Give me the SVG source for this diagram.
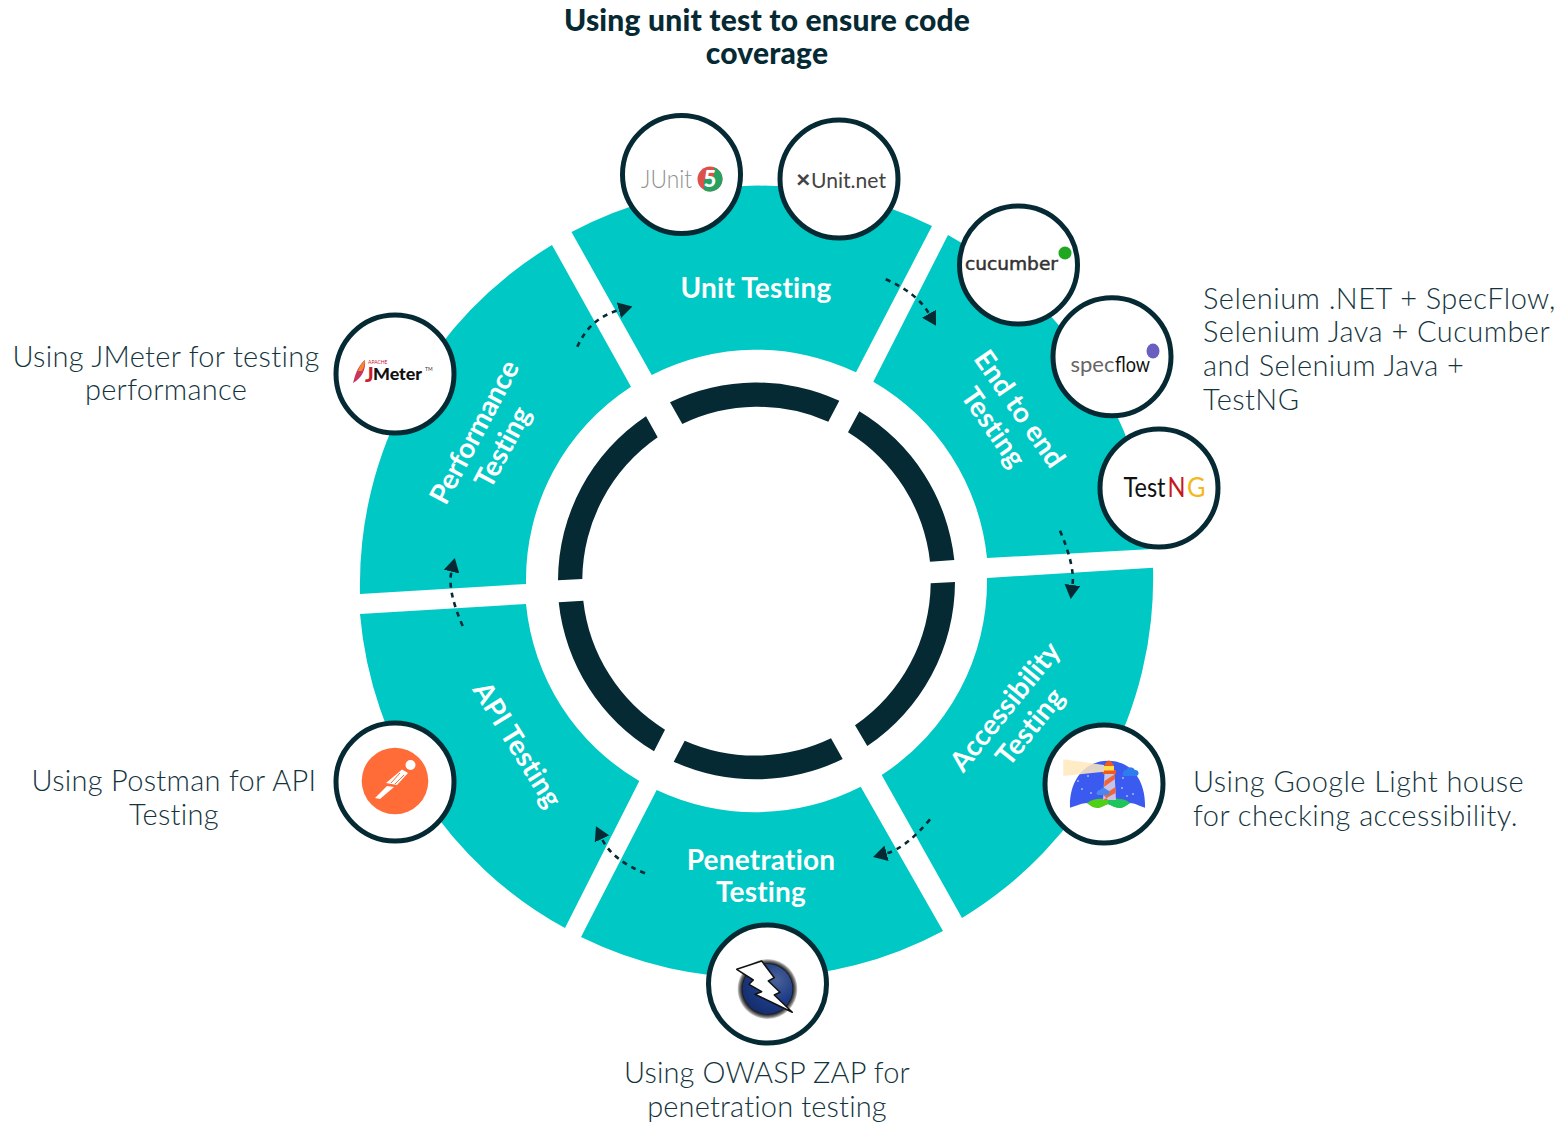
<svg xmlns="http://www.w3.org/2000/svg" width="1562" height="1122" viewBox="0 0 1562 1122">
<style>
.seg{fill:#00c8c4}
.ring{fill:#062a33}
.lab{font:700 28px Lato,"Open Sans",sans-serif;letter-spacing:.2px;fill:#fff;text-anchor:middle}
.tight{letter-spacing:-.2px}
.title{font:900 30px Lato,"Open Sans",sans-serif;letter-spacing:.2px;fill:#062a33;text-anchor:middle}
.note{font:300 29px Lato,"Open Sans",sans-serif;letter-spacing:.3px;fill:#14343d}
.wide{letter-spacing:.45px}
.snug{letter-spacing:.15px}
.mid{text-anchor:middle}
.disc{fill:#fff;stroke:#062a33;stroke-width:5}
.conn{fill:none;stroke:#062a33;stroke-width:2.6;stroke-dasharray:5 5;marker-end:url(#head)}
.logo{font-family:Lato,"Open Sans",sans-serif}
</style>
<defs>
<marker id="head" viewBox="0 0 14 16" refX="0" refY="8" markerWidth="14" markerHeight="16" markerUnits="userSpaceOnUse" orient="auto"><path d="M0,0L14,8L0,16Z" fill="#062a33"/></marker>
<radialGradient id="zapball" cx="0.68" cy="0.32" r="0.8"><stop offset="0" stop-color="#4a6298"/><stop offset="0.55" stop-color="#1c3a86"/><stop offset="1" stop-color="#142c66"/></radialGradient>
<radialGradient id="zaprim"><stop offset="0.84" stop-color="#1a1a1a"/><stop offset="0.93" stop-color="#777"/><stop offset="1" stop-color="#ddd"/></radialGradient>
</defs>
<text class="title" x="767" y="31">Using unit test to ensure code</text>
<text class="title" x="767" y="64">coverage</text>

<g id="ring">
<path class="ring" d="M670,402.3A198 198 0 0 1 839.3,400.7L828.3,421.7A174.5 174.5 0 0 0 682.3,424Z"/>
<path class="ring" d="M859.3,411.3A198 198 0 0 1 954.3,560L930,561.7A174.5 174.5 0 0 0 848,432.3Z"/>
<path class="ring" d="M955,582A198 198 0 0 1 867.3,746L855,725.3A174.5 174.5 0 0 0 930.7,583.3Z"/>
<path class="ring" d="M842.7,759A198 198 0 0 1 673.7,761.7L684.7,740.7A174.5 174.5 0 0 0 831,738.3Z"/>
<path class="ring" d="M654,751.3A198 198 0 0 1 558.7,602.3L583.3,600.7A174.5 174.5 0 0 0 665,729.7Z"/>
<path class="ring" d="M558,580.3A198 198 0 0 1 646,416.3L657.7,437.3A174.5 174.5 0 0 0 582.3,579Z"/>
</g>

<g id="unit-testing">
<path class="seg" d="M571.5,232A396.5 396.5 0 0 1 932,226L856,372.3A230.5 230.5 0 0 0 651.7,375Z"/>
<text class="lab" x="756" y="298">Unit Testing</text>
</g>
<g id="end-to-end-testing">
<path class="seg" d="M948,235A396.5 396.5 0 0 1 1152.5,549L987,558A230.5 230.5 0 0 0 873.3,381.7Z"/>
<g transform="translate(1006,418.5) rotate(55)"><text class="lab" x="0" y="-7">End to end</text><text class="lab" x="0" y="25">Testing</text></g>
</g>
<g id="accessibility-testing">
<path class="seg" d="M1153,567.7A396.5 396.5 0 0 1 962,918L881.7,775A230.5 230.5 0 0 0 987,578Z"/>
<g transform="translate(1018,717) rotate(-51)"><text class="lab" x="0" y="-7">Accessibility</text><text class="lab" x="0" y="25">Testing</text></g>
</g>
<g id="penetration-testing">
<path class="seg" d="M943,931A396.5 396.5 0 0 1 581,937L656.7,790A230.5 230.5 0 0 0 860.7,786.7Z"/>
<text class="lab" x="761" y="870">Penetration</text>
<text class="lab" x="761" y="902">Testing</text>
</g>
<g id="api-testing">
<path class="seg" d="M565,928A396.5 396.5 0 0 1 360,614L526,604A230.5 230.5 0 0 0 639.3,781Z"/>
<g transform="translate(517,745) rotate(58)"><text class="lab" x="0" y="9">API Testing</text></g>
</g>
<g id="performance-testing">
<path class="seg" d="M360,594A396.5 396.5 0 0 1 552,245L631,386.7A230.5 230.5 0 0 0 526,584Z"/>
<g transform="translate(489,440) rotate(-62)"><text class="lab tight" x="0" y="-7">Performance</text><text class="lab tight" x="0" y="25">Testing</text></g>
</g>

<g id="connectors">
<path class="conn" d="M577.3,346.7Q590,318 618.9,310.2"/>
<path class="conn" d="M885.7,279.3Q917,293 929,313.7"/>
<path class="conn" d="M1060,530.7Q1075,566 1072.5,585"/>
<path class="conn" d="M930,819.3Q906,848 886.6,853.3"/>
<path class="conn" d="M645,873.3Q612,860 602,838.9"/>
<path class="conn" d="M462.7,626Q447,590 451.5,571.6"/>
</g>

<g id="junit">
<circle class="disc" cx="681.5" cy="174.5" r="59"/>
<text class="logo" x="641" y="188" font-size="26" font-weight="300" fill="#8f8f8f" textLength="51" lengthAdjust="spacingAndGlyphs">JUnit</text>
<circle cx="710" cy="179" r="12.5" fill="#dc524a"/>
<path d="M722.5,179A12.5 12.5 0 0 1 704,190L704,180L714,176L714,167.5A12.5 12.5 0 0 1 722.5,179Z" fill="#25a162"/>
<text class="logo" x="710" y="187" font-size="22" font-weight="900" fill="#fff" text-anchor="middle">5</text>
</g>
<g id="xunit">
<circle class="disc" cx="839" cy="179" r="59"/>
<text class="logo" x="796" y="188" font-size="25" font-weight="900" fill="#444">×</text>
<text class="logo" x="811" y="188" font-size="22" font-weight="400" fill="#444" textLength="75" lengthAdjust="spacingAndGlyphs">Unit.net</text>
</g>
<g id="cucumber">
<circle class="disc" cx="1018.5" cy="265" r="59"/>
<text x="965" y="270" font-family="'DejaVu Sans',sans-serif" font-size="18" fill="#333" stroke="#333" stroke-width=".5" textLength="93" lengthAdjust="spacingAndGlyphs">cucumber</text>
<circle cx="1065" cy="253" r="6.5" fill="#1fa81f"/>
</g>
<g id="specflow">
<circle class="disc" cx="1112" cy="356.7" r="59"/>
<text class="logo" x="1070.5" y="372" font-size="22" fill="#666" textLength="44" lengthAdjust="spacingAndGlyphs">spec</text>
<text class="logo" x="1115" y="372" font-size="22" fill="#111" textLength="35" lengthAdjust="spacingAndGlyphs">flow</text>
<ellipse cx="1153" cy="351" rx="6.5" ry="7.5" fill="#6a5fc0"/>
</g>
<g id="testng">
<circle class="disc" cx="1159" cy="488" r="59"/>
<text class="logo" x="1123.5" y="497" font-size="27" fill="#111" textLength="42" lengthAdjust="spacingAndGlyphs">Test</text>
<text class="logo" x="1167.5" y="497" font-size="27" fill="#c8181e" textLength="18" lengthAdjust="spacingAndGlyphs">N</text>
<text class="logo" x="1187" y="497" font-size="27" fill="#f5b81a" textLength="18.5" lengthAdjust="spacingAndGlyphs">G</text>
</g>
<g id="jmeter">
<circle class="disc" cx="395" cy="374" r="59"/>
<path d="M353,383C356,370 361,363 365,360C366,369 362,378 353,383Z" fill="#c8365f"/>
<path d="M358,371C360,365 363,362 365,360C365,364 364,367 362,371Z" fill="#f08a2c"/>
<text class="logo" x="368" y="364" font-size="5" fill="#c8202c">APACHE</text>
<text class="logo" x="365" y="382" font-size="20" font-weight="900" fill="#c8202c">J</text>
<text class="logo" x="373" y="380" font-size="17" font-weight="900" fill="#111" textLength="49" lengthAdjust="spacingAndGlyphs">Meter</text>
<text class="logo" x="425" y="371" font-size="5" fill="#333">TM</text>
</g>
<g id="postman">
<circle class="disc" cx="395" cy="782" r="59"/>
<circle cx="395" cy="781" r="33.3" fill="#ff6c37"/>
<g fill="#fff">
<circle cx="410.5" cy="765" r="5"/>
<path d="M402,769.5L408,773L397,785L386,783Z"/>
<path d="M387,786L394,787L380,799L375,798Z"/>
</g>
<path d="M400,773L391,783M404,775L395,784" stroke="#ff6c37" stroke-width="1" fill="none"/>
</g>
<g id="lighthouse">
<circle class="disc" cx="1104" cy="784" r="59"/>
<path d="M1070,807.7C1069,780 1085,760.7 1108,760.7C1131,760.7 1146,780 1145,807.7C1139,806 1135,803 1130,803L1120,808L1108,804L1098,808L1087,803C1082,803 1076,806 1070,807.7Z" fill="#3b5bf0"/>
<path d="M1087,803C1094,798 1102,798 1108,800C1114,798 1124,798 1130,803C1126,806 1122,808 1120,808C1115,808 1111,805 1108,804C1105,805 1101,808 1098,808C1094,808 1090,806 1087,803Z" fill="#4fd017"/>
<path d="M1108,800C1114,798 1124,798 1130,803C1126,806 1122,808 1120,808C1115,808 1111,805 1108,804Z" fill="#1fc45c"/>
<path d="M1104.5,773H1114.5L1116,800H1103Z" fill="#c4c4ea"/>
<path d="M1104.5,781L1115,774V779L1104,787ZM1103.5,795L1115.5,787V793L1103,800H1108Z" fill="#f0643c"/>
<path d="M1102.7,770H1116V774H1102.7Z" fill="#f05a22"/>
<path d="M1104,766Q1109,755 1114,766Z" fill="#f05a22"/>
<rect x="1104" y="766" width="10" height="4.5" fill="#ffe04a"/>
<path d="M1063.3,759.3L1104,765V771.7L1063.3,776Z" fill="#ffe9bd" fill-opacity=".85"/>
<path d="M1123,773a3,3 0 0 1 3,-3a5,5 0 0 1 9,0a3,3 0 0 1 1,6h-12a2,2 0 0 1 -1,-3Z" fill="#2f7bf0"/>
<path d="M1097,792a3,3 0 0 1 3,-2a4,4 0 0 1 7,0a2.5,2.5 0 0 1 0,5h-9a2,2 0 0 1 -1,-3Z" fill="#4a86f0"/>
<path d="M1077,781h2M1087,776h2M1081,789h2M1090,793h2M1122,778h2M1121,788h2M1132,794h2M1126,796h2" stroke="#dfe6ff" stroke-width="1.2" fill="none"/>
</g>
<g id="owasp-zap">
<circle class="disc" cx="767.5" cy="984" r="59"/>
<circle cx="767.5" cy="989" r="30" fill="url(#zaprim)"/>
<circle cx="767.5" cy="989" r="25" fill="url(#zapball)"/>
<path d="M736.7,969.3L761.7,961L774.3,977.7L768.3,981L780,992.3L774.3,995L792.3,1012.3L755,994.3L761.7,991.7L749,984.3L753.3,980Z" fill="#fff" stroke="#111" stroke-width="1.5" stroke-linejoin="round"/>
</g>

<g id="notes">
<text class="note mid" x="166" y="367">Using JMeter for testing</text>
<text class="note mid" x="166" y="400">performance</text>
<text class="note wide" x="1203" y="309">Selenium .NET + SpecFlow,</text>
<text class="note wide" x="1203" y="342">Selenium Java + Cucumber</text>
<text class="note wide" x="1203" y="376">and Selenium Java +</text>
<text class="note wide" x="1203" y="410">TestNG</text>
<text class="note wide" x="1193" y="792">Using Google Light house</text>
<text class="note wide" x="1193" y="826">for checking accessibility.</text>
<text class="note mid" x="174" y="791">Using Postman for API</text>
<text class="note mid" x="174" y="825">Testing</text>
<text class="note mid snug" x="767" y="1083">Using OWASP ZAP for</text>
<text class="note mid snug" x="767" y="1117">penetration testing</text>
</g>
</svg>
